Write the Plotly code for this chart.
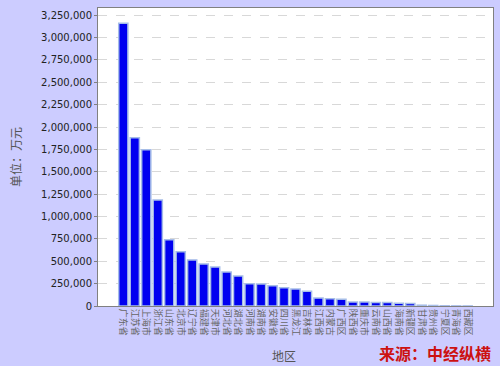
import plotly.graph_objects as go

regions = ["广东省", "江苏省", "上海市", "浙江省", "山东省", "北京市", "辽宁省", "福建省",
           "天津市", "河北省", "湖北省", "河南省", "湖南省", "安徽省", "四川省", "黑龙江",
           "吉林省", "江西省", "内蒙古", "广西区", "陕西省", "重庆市", "云南省", "山西省",
           "海南省", "新疆区", "甘肃省", "贵州省", "宁夏区", "青海省", "西藏区"]
values = [3160000, 1880000, 1746000, 1185000, 740000, 605000, 515000, 470000,
          435000, 380000, 335000, 248000, 246000, 225000, 205000, 190000,
          165000, 88000, 80000, 75000, 45000, 45000, 40000, 38000,
          32000, 27000, 9000, 6000, 2000, 1000, 500]
yticks = list(range(0, 3250001, 250000))

fig = go.Figure()
fig.add_trace(go.Bar(
    x=regions, y=values,
    marker=dict(color="#0000f0", line=dict(color="#a6bde8", width=1.5)),
))

fig.update_layout(
    width=500, height=366,
    margin=dict(l=98, r=7, t=8, b=60),
    paper_bgcolor="#ccccff",
    plot_bgcolor="#ffffff",
    bargap=0.2,
    showlegend=False,
    font=dict(family="DejaVu Sans, sans-serif"),
    xaxis=dict(
        type="category",
        automargin=False,
        range=[-0.5 - 31 * 0.055, 30.5 + 31 * 0.055],
        tickangle=90,
        tickfont=dict(size=9, color="#666666", family="Noto Sans CJK SC"),
        showgrid=False,
        showline=True, linecolor="#808080", linewidth=1, mirror=True,
        ticks="", ticklen=0,
    ),
    yaxis=dict(
        automargin=False,
        range=[0, 3330000],
        tickvals=yticks,
        tickformat=",d",
        tickfont=dict(size=10, color="#222222", family="DejaVu Sans"),
        showgrid=True, gridcolor="#d8d8d8", griddash="dash", gridwidth=1,
        showline=True, linecolor="#808080", linewidth=1, mirror=True,
        ticks="outside", ticklen=3, tickcolor="#808080",
        zeroline=False,
    ),
)

fig.add_annotation(
    text="单位：万元", xref="paper", yref="paper",
    x=-0.21, y=0.5, xanchor="center", yanchor="middle", textangle=-90,
    showarrow=False,
    font=dict(size=12, color="#555555", family="Noto Sans CJK SC"),
)
fig.add_annotation(
    text="地区", xref="paper", yref="paper",
    x=0.47, y=-0.13, xanchor="center", yanchor="top",
    showarrow=False,
    font=dict(size=12, color="#555555", family="Noto Sans CJK SC"),
)
fig.add_annotation(
    text="<b>来源：中经纵横</b>", xref="paper", yref="paper",
    x=1.0, y=-0.11, xanchor="right", yanchor="top",
    showarrow=False,
    font=dict(size=16, color="#cc1111", family="Noto Sans CJK SC"),
)

fig.write_html("out.html", config={"displayModeBar": False},
               post_script="document.body.style.margin='0';document.body.style.background='#ccccff';")
